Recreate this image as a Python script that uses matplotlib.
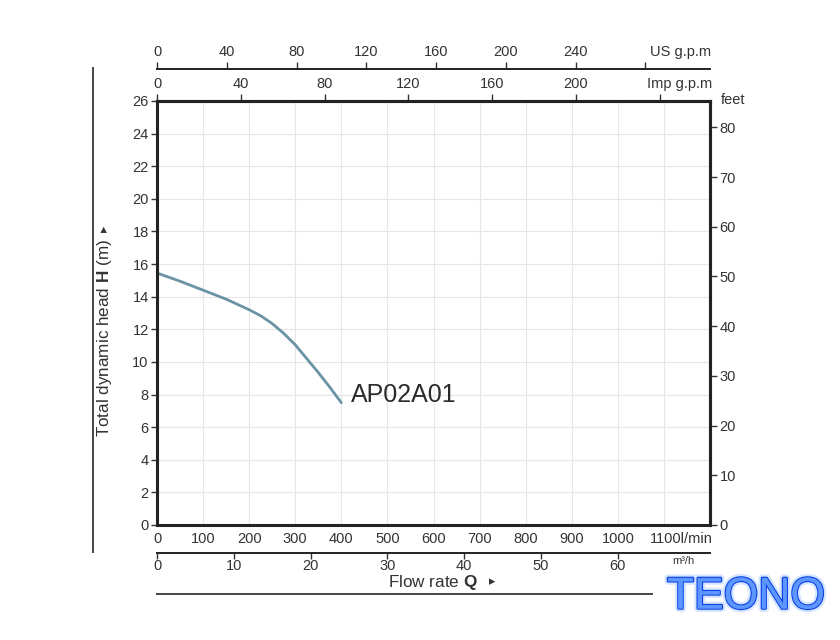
import numpy as np
import matplotlib.pyplot as plt
import matplotlib.transforms as mtransforms
import matplotlib.patheffects as pe
from matplotlib.lines import Line2D

plt.rcParams['font.family'] = ['Liberation Sans', 'DejaVu Sans']
plt.rcParams['mathtext.fontset'] = 'custom'
plt.rcParams['mathtext.rm'] = 'Liberation Sans'
plt.rcParams['mathtext.bf'] = 'Liberation Sans:bold'

## pump curve (l/min, m)
flow_lpm = [0, 50, 100, 150, 200, 225, 250, 275, 300, 325, 350, 375, 400]
head_m = [15.45, 14.95, 14.4, 13.85, 13.2, 12.83, 12.35, 11.75, 11.05, 10.2, 9.35, 8.45, 7.5]
model = 'AP02A01'

## axis ticks
lpm_ticks = list(range(0, 1101, 100))
head_ticks = list(range(0, 27, 2))
feet_ticks = list(range(0, 81, 10))
imp_ticks = list(range(0, 241, 40))
us_ticks = list(range(0, 281, 40))
m3h_ticks = list(range(0, 61, 10))

LPM_MAX = 1200
H_MAX = 26
txt = '#333333'
spine_c = '#222222'
fs = 10.5

fig = plt.figure(figsize=(8.4, 6.4), dpi=100)
ax = fig.add_axes([157/840, 1-525/640, 553/840, 424/640])

ax.plot(flow_lpm, head_m, color='#6b93a6', lw=2, solid_capstyle='round')
ax.text(420, 8.0, model, fontsize=18, color='#2a2a2a', va='center', ha='left')

ax.set_xlim(0, LPM_MAX)
ax.set_ylim(0, H_MAX)
ax.set_xticks(lpm_ticks)
ax.set_xticklabels([str(t) for t in lpm_ticks[:-1]] + ['1100l/min'])
ax.set_yticks(head_ticks)
ax.grid(True, color='#e6e6e6', lw=0.8)
ax.tick_params(axis='x', length=0, pad=5, labelsize=fs, colors=txt)
ax.tick_params(axis='y', direction='out', length=4, width=1, pad=2, labelsize=fs, colors=txt)
for s in ax.spines.values():
    s.set_linewidth(2.2)
    s.set_color(spine_c)

def shift_last(axis_labels, dx_px):
    lab = axis_labels[-1]
    lab.set_ha('right')
    lab.set_transform(lab.get_transform() + mtransforms.ScaledTranslation(dx_px/100, 0, fig.dpi_scale_trans))

shift_last(ax.get_xticklabels(), 49)

## feet on the right
ax_ft = ax.twinx()
ax_ft.set_ylim(0, H_MAX * 3.28084)
ax_ft.set_yticks(feet_ticks)
ax_ft.tick_params(axis='y', direction='out', length=5, width=1, pad=2, labelsize=fs, colors=txt)
for k, s in ax_ft.spines.items():
    s.set_visible(k == 'right')
    s.set_linewidth(2.2)
    s.set_color(spine_c)
fig.text(733/840, 1-100/640, 'feet', fontsize=fs, color=txt, ha='center', va='center')

## Imp g.p.m on the box top
ax_imp = ax.twiny()
ax_imp.set_xlim(0, LPM_MAX / 4.54609)
ax_imp.set_xticks(imp_ticks)
ax_imp.set_xticklabels([str(t) for t in imp_ticks[:-1]] + ['Imp g.p.m'])
ax_imp.tick_params(axis='x', direction='out', length=5, width=1, pad=2, labelsize=fs, colors=txt)
for k, s in ax_imp.spines.items():
    s.set_visible(k == 'top')
    s.set_linewidth(2.2)
    s.set_color(spine_c)
shift_last(ax_imp.get_xticklabels(), 52)

## US g.p.m above
ax_us = ax.twiny()
ax_us.set_xlim(0, LPM_MAX / 3.78541)
ax_us.set_xticks(us_ticks)
ax_us.set_xticklabels([str(t) for t in us_ticks[:-1]] + ['US g.p.m'])
ax_us.spines['top'].set_position(('outward', 23))
ax_us.tick_params(axis='x', direction='out', length=5, width=1, pad=2, labelsize=fs, colors=txt)
for k, s in ax_us.spines.items():
    s.set_visible(k == 'top')
    s.set_linewidth(1.4)
    s.set_color(spine_c)
shift_last(ax_us.get_xticklabels(), 66)

## m3/h below
ax_m3 = ax.twiny()
ax_m3.xaxis.set_ticks_position('bottom')
ax_m3.xaxis.set_label_position('bottom')
ax_m3.set_xlim(0, LPM_MAX / 16.6667)
ax_m3.set_xticks(m3h_ticks)
ax_m3.spines['bottom'].set_position(('outward', 20))
ax_m3.tick_params(axis='x', direction='out', length=4, width=1, pad=0.5, labelsize=fs, colors=txt)
for k, s in ax_m3.spines.items():
    s.set_visible(k == 'bottom')
    s.set_linewidth(1.4)
    s.set_color(spine_c)
fig.text(683/840, 1-561/640, 'm³/h', fontsize=8, color=txt, ha='center', va='center')

## axis titles
fig.text(105/840, 1-338/640, 'Total dynamic head $\\mathbf{H}$ (m)', fontsize=12.3, color=txt,
         rotation=90, ha='center', va='center')
fig.text(105/840, 1-229/640, '▸', fontsize=9, color=txt, rotation=90, ha='center', va='center')
fig.text(433/840, 1-582/640, 'Flow rate $\\mathbf{Q}$', fontsize=12.3, color=txt, ha='center', va='center')
fig.text(492/840, 1-582/640, '▸', fontsize=9, color=txt, ha='center', va='center')

## decorative lines
fig.add_artist(Line2D([93/840, 93/840], [1-68/640, 1-552/640], transform=fig.transFigure, color='#444444', lw=1.4))
fig.add_artist(Line2D([157/840, 652/840], [1-594/640, 1-594/640], transform=fig.transFigure, color='#444444', lw=1.4))

## logo
fig.text(746/840, 1-597/640, 'TEONO', fontsize=32, color='#5d96ff',
         ha='center', va='center',
         path_effects=[pe.withStroke(linewidth=5, foreground='#d6e5ff'),
                       pe.withStroke(linewidth=1.8, foreground='#0c44e4'),
                       pe.Normal()])

fig.savefig('out.png', dpi=100, facecolor='white')
